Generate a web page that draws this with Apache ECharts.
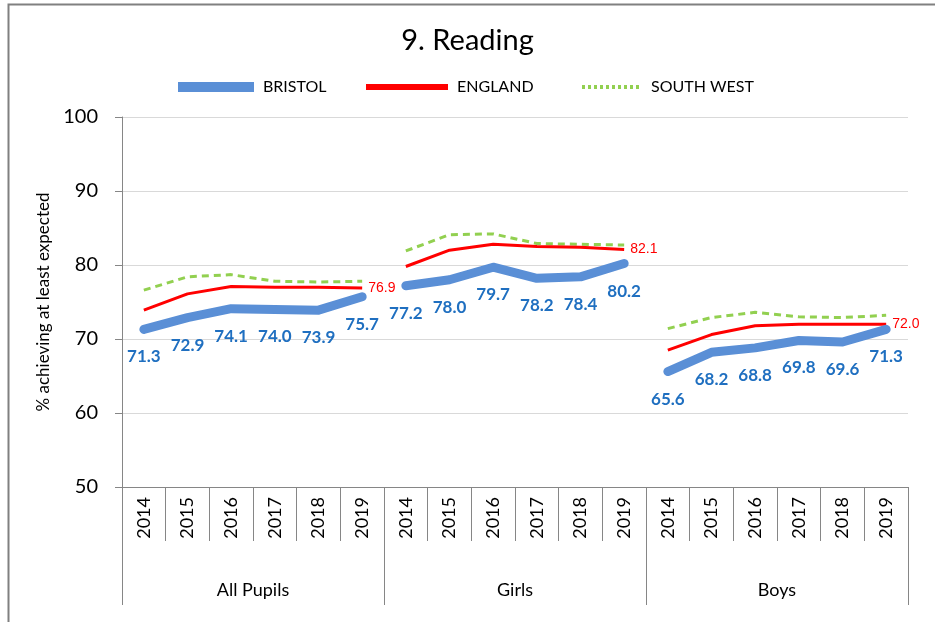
<!DOCTYPE html>
<html>
<head>
<meta charset="utf-8">
<script src="https://cdn.jsdelivr.net/npm/echarts@6/dist/echarts.min.js"></script>
<style>
  html, body { margin: 0; padding: 0; background: #fff; }
  #chart { width: 935px; height: 622px; }
</style>
</head>
<body>
<div id="chart"></div>
<script>
// categories
const years = ['2014', '2015', '2016', '2017', '2018', '2019']
const groups = ['All Pupils', 'Girls', 'Boys']

// values per group, 2014..2019
const bristol = [
  [71.3, 72.9, 74.1, 74.0, 73.9, 75.7],
  [77.2, 78.0, 79.7, 78.2, 78.4, 80.2],
  [65.6, 68.2, 68.8, 69.8, 69.6, 71.3]
]
const england = [
  [73.9, 76.1, 77.1, 77.0, 77.0, 76.9],
  [79.8, 82.0, 82.8, 82.5, 82.4, 82.1],
  [68.5, 70.6, 71.8, 72.0, 72.0, 72.0]
]
const southWest = [
  [76.6, 78.4, 78.7, 77.8, 77.7, 77.8],
  [81.9, 84.1, 84.2, 82.9, 82.8, 82.7],
  [71.4, 72.9, 73.6, 73.0, 72.9, 73.2]
]

const yearCats = []
groups.forEach(g => years.forEach(y => yearCats.push(y)))

const FONT = 'Lato, "Open Sans", sans-serif'
const CLEAR = 'rgba(0,0,0,0)'

// one series per group so the lines break between groups
function groupData(vals, g) {
  const out = []
  groups.forEach((_, gi) => {
    years.forEach((_, yi) => out.push(gi === g ? vals[gi][yi] : '-'))
  })
  return out
}

const isNum = v => typeof v === 'number' && !isNaN(v)

const series = []
groups.forEach((_, g) => {
  series.push({
    name: 'SOUTH WEST',
    type: 'line',
    data: groupData(southWest, g),
    symbol: 'none',
    z: 2,
    lineStyle: { color: '#92d050', width: 3, type: [7, 5] },
    itemStyle: { color: '#92d050' }
  })
  series.push({
    name: 'ENGLAND',
    type: 'line',
    data: groupData(england, g),
    symbol: 'circle',
    symbolSize: 2,
    showSymbol: true,
    z: 3,
    lineStyle: { color: '#ff0000', width: 3 },
    itemStyle: { color: CLEAR, borderWidth: 0 },
    label: {
      show: true,
      position: 'right',
      distance: 5,
      color: '#ff0000',
      fontFamily: '"Liberation Sans", Arial, sans-serif',
      fontSize: 14,
      formatter: p => (isNum(p.value) && p.dataIndex % 6 === 5 ? p.value.toFixed(1) : '')
    }
  })
  series.push({
    name: 'BRISTOL',
    type: 'line',
    data: groupData(bristol, g),
    symbol: 'circle',
    symbolSize: 2,
    showSymbol: true,
    z: 4,
    lineStyle: { color: '#5a8fd6', width: 9, cap: 'round', join: 'round' },
    itemStyle: { color: CLEAR, borderWidth: 0 },
    label: {
      show: true,
      position: 'bottom',
      distance: 18,
      color: '#1f6fc0',
      fontFamily: FONT,
      fontWeight: 'bold',
      fontSize: 17,
      formatter: p => (isNum(p.value) ? p.value.toFixed(1) : '')
    }
  })
})

const legendText = { fontFamily: FONT, fontSize: 16, color: '#000', padding: [0, 0, 0, 4] }

const chart = echarts.init(document.getElementById('chart'))
chart.setOption({
  animation: false,
  title: {
    text: '9. Reading',
    left: 'center',
    top: 21,
    textStyle: { fontFamily: FONT, fontWeight: 'normal', fontSize: 29, color: '#000' }
  },
  legend: [
    {
      top: 74, left: 168, itemWidth: 76, itemHeight: 12,
      data: [{ name: 'BRISTOL', lineStyle: { width: 10, cap: 'butt' }, itemStyle: { opacity: 0 } }],
      textStyle: legendText
    },
    {
      top: 74, left: 358, itemWidth: 82, itemHeight: 12,
      data: [{ name: 'ENGLAND', lineStyle: { width: 6 }, itemStyle: { opacity: 0 } }],
      textStyle: legendText
    },
    {
      top: 74, left: 575, itemWidth: 60, itemHeight: 12,
      data: [{ name: 'SOUTH WEST', lineStyle: { width: 4, type: [3, 3] }, itemStyle: { opacity: 0 } }],
      textStyle: legendText
    }
  ],
  grid: { left: 122, right: 27, top: 117, bottom: 135 },
  xAxis: [
    {
      type: 'category',
      data: yearCats,
      position: 'bottom',
      axisLine: { lineStyle: { color: '#868686' } },
      axisTick: { show: true, interval: 0, length: 54, lineStyle: { color: '#868686' } },
      axisLabel: {
        interval: 0,
        rotate: 90,
        margin: 10,
        fontFamily: FONT,
        fontSize: 18,
        color: '#000'
      },
      splitLine: { show: false }
    },
    {
      type: 'category',
      data: groups,
      position: 'bottom',
      axisLine: { show: false },
      axisTick: { show: true, interval: 0, length: 118, lineStyle: { color: '#868686' } },
      axisLabel: {
        interval: 0,
        margin: 94,
        fontFamily: FONT,
        fontSize: 18,
        color: '#000'
      },
      splitLine: { show: false }
    }
  ],
  yAxis: {
    type: 'value',
    min: 50,
    max: 100,
    interval: 10,
    name: '% achieving at least expected',
    nameLocation: 'middle',
    nameGap: 70,
    nameTextStyle: { fontFamily: FONT, fontSize: 17, color: '#000' },
    axisLine: { show: true, lineStyle: { color: '#868686' } },
    axisTick: { show: true, length: 7, lineStyle: { color: '#868686' } },
    axisLabel: { margin: 24, fontFamily: FONT, fontSize: 20, color: '#000' },
    splitLine: { lineStyle: { color: '#d9d9d9', width: 1 } }
  },
  graphic: [
    {
      type: 'rect',
      shape: { x: 8.5, y: 4.5, width: 1000, height: 700 },
      style: { fill: 'none', stroke: '#808080', lineWidth: 2 },
      silent: true
    }
  ],
  series: series
})
</script>
</body>
</html>
